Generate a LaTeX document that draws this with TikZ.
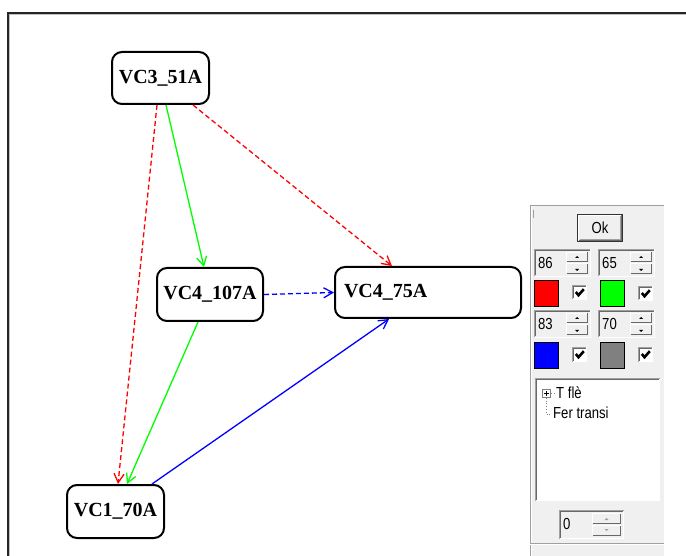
\documentclass[tikz,border=0pt]{standalone}
\usepackage{fontspec}
\setmainfont{Liberation Serif}
\newfontfamily\uifont[FakeStretch=0.82]{Liberation Sans}
\usetikzlibrary{arrows.meta,calc}
\definecolor{panelbg}{HTML}{F0F0F0}
\definecolor{dkgray}{HTML}{696969}
\definecolor{midgray}{HTML}{A0A0A0}
\definecolor{boxgray}{HTML}{808080}
\newcommand\mysunken[4]{% x y w h
  \draw[line width=1pt,midgray] (#1+0.5,#2+#4-0.5) -- (#1+0.5,#2+0.5) -- (#1+#3-0.5,#2+0.5);
  \draw[line width=1pt,dkgray] (#1+1.5,#2+#4-1.5) -- (#1+1.5,#2+1.5) -- (#1+#3-1.5,#2+1.5);
  \draw[line width=1pt,white] (#1+0.5,#2+#4-0.5) -- (#1+#3-0.5,#2+#4-0.5) -- (#1+#3-0.5,#2+0.5);
}
\newcommand\myraised[4]{% x y w h
  \fill[panelbg] (#1,#2) rectangle (#1+#3,#2+#4);
  \draw[line width=1pt,white] (#1+0.5,#2+#4-0.5) -- (#1+0.5,#2+0.5) -- (#1+#3-0.5,#2+0.5);
  \draw[line width=1pt,dkgray] (#1+0.5,#2+#4-0.5) -- (#1+#3-0.5,#2+#4-0.5) -- (#1+#3-0.5,#2+0.5);
}
\newcommand\myspin[6]{% x y w h name text
  \begin{scope}[shift={(#1,#2)}]
    \mysunken{0}{0}{#3}{#4}
    \node[uitext,anchor=west] (#5) at (4,#4/2) {#6};
    \myraised{#3-25}{3}{22}{#4/2-3.5}
    \myraised{#3-25}{#4/2+0.5}{22}{#4/2-3.5}
    \fill[black] (#3-14-2,#4/4+2) -- (#3-14+2,#4/4+2) -- (#3-14,#4/4) -- cycle;
    \fill[black] (#3-14-2,3*#4/4-1) -- (#3-14+2,3*#4/4-1) -- (#3-14,3*#4/4+1) -- cycle;
  \end{scope}
}
\newcommand\mycheck[2]{% x y
  \fill[white] (#1,#2) rectangle (#1+15,#2+15);
  \mysunken{#1}{#2}{15}{15}
  \draw[line width=2.6pt,black,line join=miter] (#1+3.8,#2+7) -- (#1+6.5,#2+10.2) -- (#1+11.8,#2+4.2);
}
\begin{document}
\begin{tikzpicture}[x=1pt,y=-1pt,
  state/.style={draw=black,line width=2pt,rounded corners=10pt,
    font=\fontsize{20}{21}\selectfont\bfseries,inner sep=0pt},
  edge/.style={line width=1.3pt,-{Straight Barb[length=9pt,width=10pt,line width=1.3pt]}},
  dsh/.style={dash pattern=on 5pt off 3pt},
  uitext/.style={inner sep=0pt,font=\uifont\fontsize{16}{16}\selectfont},
  colsq/.style={draw=black,line width=1pt}]
\useasboundingbox (0,0) rectangle (686,556);
\fill[white] (0,0) rectangle (686,556);
% frame
\draw[line width=2pt,black!85] (8,556) -- (8,13) -- (686,13);
\draw[line width=0.8pt,black!25] (9.5,556) -- (9.5,14.5) -- (686,14.5);
% nodes
\node[state,minimum width=97pt,minimum height=52pt] (a) at (160.5,78) {VC3\_51A};
\node[state,minimum width=106pt,minimum height=53pt] (b) at (210,294.5) {VC4\_107A};
\node[state,minimum width=186pt,minimum height=51pt,text width=168pt,align=left,inner xsep=9pt] (c) at (428,292.5) {VC4\_75A};
\node[state,minimum width=97pt,minimum height=53pt] (d) at (115.5,511.5) {VC1\_70A};
% edges
\draw[edge,red,dsh] ([xshift=-3.5pt]a.south) -- ([xshift=2.5pt]d.north);
\draw[edge,green] ([xshift=5.5pt]a.south) -- ([xshift=-6pt]b.north);
\draw[edge,red,dsh] ([xshift=32.5pt]a.south) -- ([xshift=-36pt]c.north);
\draw[edge,blue,dsh] (b.east) -- (c.west);
\draw[edge,green] ([xshift=-12pt]b.south) -- ([xshift=11.5pt]d.north);
\draw[edge,blue] ([xshift=36.5pt]d.north) -- ([xshift=-39pt]c.south);
% panel
\fill[panelbg] (530,205) rectangle (664,556);
\draw[line width=1pt,midgray] (530,205.5) -- (664,205.5);
\draw[line width=1pt,midgray] (530.5,205) -- (530.5,556);
\draw[line width=1pt,white] (531.5,206) -- (531.5,556);
\draw[line width=0.8pt,midgray] (533,210) -- (533,218);
\draw[line width=1pt,midgray] (530,543.5) -- (664,543.5);
\draw[line width=1pt,white] (530,544.5) -- (664,544.5);
% Ok button
\draw[line width=1pt,black!80] (577.5,214.5) rectangle (622.5,241.5);
\myraised{578}{215}{44}{26}
\draw[line width=1pt,midgray] (579.5,239.5) -- (620.5,239.5) -- (620.5,216.5);
\node[uitext] (ok) at (600,228) {Ok};
% spin boxes and colours
\myspin{534}{249}{57}{28}{s1}{86}
\myspin{598}{249}{57}{28}{s2}{65}
\draw[colsq,fill=red] (534.5,280.5) rectangle (558.5,306.5);
\mycheck{572}{285}
\draw[colsq,fill={rgb,255:red,0;green,255;blue,0}] (600.5,280.5) rectangle (624.5,306.5);
\mycheck{638}{286}
\myspin{534}{310}{57}{28}{s3}{83}
\myspin{598}{310}{57}{28}{s4}{70}
\draw[colsq,fill=blue] (534.5,342.5) rectangle (558.5,368.5);
\mycheck{572}{347}
\draw[colsq,fill=boxgray] (600.5,342.5) rectangle (624.5,368.5);
\mycheck{638}{347}
% tree list
\fill[white] (535,378) rectangle (660,501);
\mysunken{535}{378}{125}{123}
\draw[line width=0.7pt,boxgray] (542.5,389.5) rectangle (550.5,397.5);
\draw[line width=0.7pt,black] (544,393.5) -- (549,393.5) (546.5,391) -- (546.5,396);
\draw[line width=0.7pt,boxgray,dotted] (551,393.5) -- (555,393.5);
\draw[line width=0.7pt,boxgray,dotted] (546.5,398) -- (546.5,414) -- (552,414);
\node[uitext,anchor=west] (t1) at (556,393) {T flè};
\node[uitext,anchor=west] (t2) at (553,413) {Fer transi};
% bottom spin
\fill[panelbg] (559,510) rectangle (624,539);
\mysunken{559}{510}{65}{29}
\node[uitext,anchor=west] (s5) at (563,524) {0};
\myraised{592}{513}{29}{11}
\myraised{592}{525}{29}{11}
\fill[midgray] (604.5,520) -- (608.5,520) -- (606.5,518) -- cycle;
\fill[midgray] (604.5,529) -- (608.5,529) -- (606.5,531) -- cycle;
\end{tikzpicture}
\end{document}
